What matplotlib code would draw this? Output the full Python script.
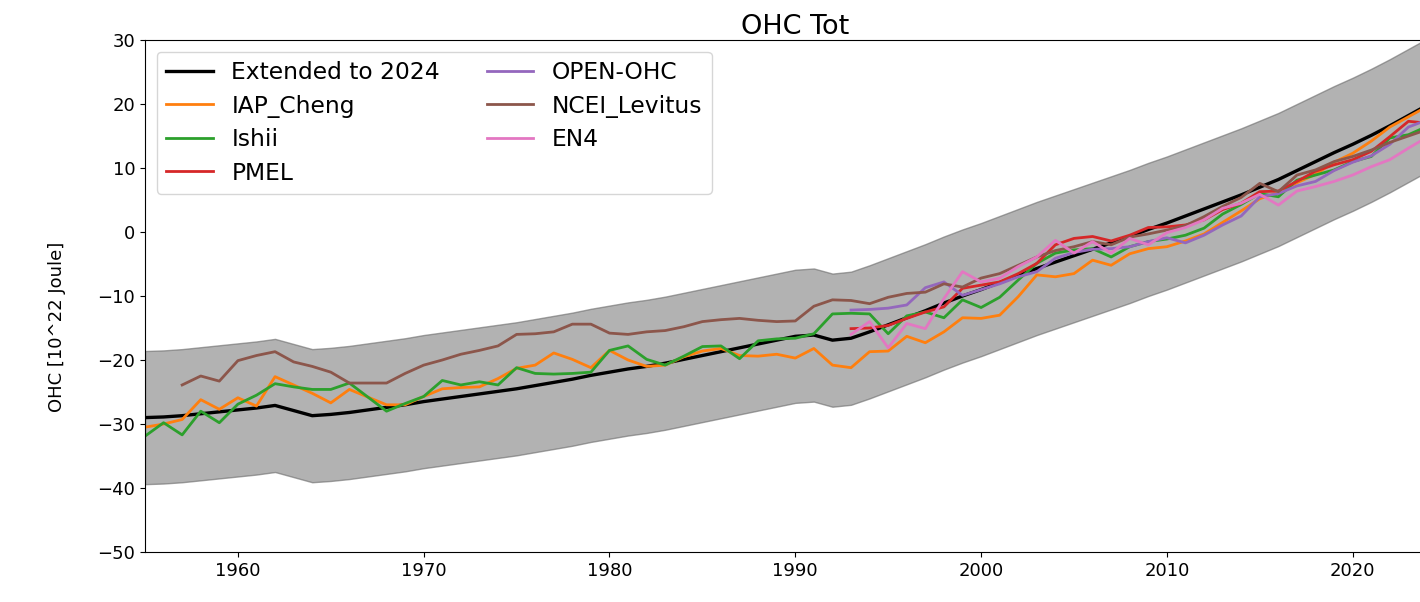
import numpy as np
import matplotlib
matplotlib.use("Agg")
import matplotlib.pyplot as plt

# annual ocean heat content, 10^22 J
years = np.arange(1955, 2025)
years_57 = np.arange(1957, 2025)
years_93 = np.arange(1993, 2025)

extended = [-29.0, -28.9, -28.7, -28.4, -28.1, -27.8, -27.5, -27.1, -27.9, -28.7,
            -28.5, -28.2, -27.8, -27.4, -27.0, -26.5, -26.1, -25.7, -25.3, -24.9,
            -24.5, -24.0, -23.5, -23.0, -22.4, -21.9, -21.4, -21.0, -20.5, -19.9,
            -19.3, -18.7, -18.1, -17.5, -16.9, -16.3, -16.1, -16.9, -16.6, -15.6,
            -14.5, -13.4, -12.3, -11.1, -10.0, -9.0, -7.9, -6.8, -5.7, -4.7,
            -3.7, -2.7, -1.7, -0.7, 0.4, 1.4, 2.5, 3.6, 4.7, 5.8,
            7.0, 8.2, 9.6, 11.0, 12.4, 13.7, 15.1, 16.6, 18.2, 19.8]
band_halfwidth = 10.4

iap_cheng = [-30.5, -30.0, -29.3, -26.2, -27.7, -25.9, -27.2, -22.6, -23.9, -25.2,
             -26.7, -24.6, -25.8, -27.0, -27.0, -25.7, -24.5, -24.3, -24.2, -22.9,
             -21.3, -20.8, -18.9, -19.9, -21.2, -18.5, -20.0, -21.0, -20.8, -19.5,
             -18.6, -18.2, -19.3, -19.4, -19.1, -19.7, -18.2, -20.8, -21.2, -18.7,
             -18.6, -16.3, -17.3, -15.6, -13.4, -13.5, -13.0, -10.1, -6.7, -7.0,
             -6.5, -4.4, -5.2, -3.4, -2.6, -2.3, -1.4, -0.3, 1.5, 3.3,
             5.2, 6.2, 7.7, 9.0, 10.9, 12.3, 14.2, 16.4, 18.0, 19.6]

ishii = [-31.9, -29.8, -31.7, -28.0, -29.8, -26.9, -25.5, -23.7, -24.2, -24.6,
         -24.6, -23.6, -25.8, -28.0, -26.8, -25.7, -23.2, -23.9, -23.4, -23.9,
         -21.2, -22.1, -22.2, -22.1, -21.9, -18.5, -17.8, -19.9, -20.8, -19.4,
         -17.9, -17.8, -19.8, -17.0, -16.7, -16.6, -15.9, -12.8, -12.7, -12.8,
         -15.9, -13.1, -12.5, -13.4, -10.6, -11.8, -10.2, -7.5, -4.9, -3.3,
         -2.8, -2.6, -3.9, -2.3, -1.5, -1.1, -0.5, 0.6, 2.8, 4.3,
         6.0, 5.5, 8.1, 8.9, 9.7, 11.0, 11.8, 14.7, 15.2, 16.5]

pmel = [-15.1, -15.0, -14.6, -13.5, -12.5, -11.7, -8.8, -8.3, -7.8, -6.5,
        -4.9, -2.0, -1.0, -0.7, -1.4, -0.5, 0.7, 0.8, 1.1, 1.9,
        3.5, 4.5, 6.3, 6.4, 7.9, 9.5, 10.5, 11.3, 12.6, 14.9,
        17.3, 17.0]

open_ohc = [-12.2, -12.1, -11.9, -11.4, -8.7, -7.8, -9.9, -9.0, -8.1, -7.0,
            -6.2, -4.1, -3.2, -2.7, -2.6, -2.3, -1.5, -0.9, -1.7, -0.5,
            1.1, 2.5, 5.5, 6.0, 7.2, 7.9, 9.6, 10.9, 11.9, 13.7,
            16.4, 17.5]

ncei_levitus = [-23.9, -22.5, -23.3, -20.1, -19.3, -18.7, -20.3, -21.0, -21.9, -23.6,
                -23.6, -23.6, -22.1, -20.8, -20.0, -19.1, -18.5, -17.8, -16.0, -15.9,
                -15.6, -14.4, -14.4, -15.8, -16.0, -15.6, -15.4, -14.8, -14.0, -13.7,
                -13.5, -13.8, -14.0, -13.9, -11.6, -10.6, -10.7, -11.2, -10.2, -9.6,
                -9.4, -8.1, -8.6, -7.2, -6.5, -5.2, -3.9, -2.9, -2.3, -1.5,
                -2.0, -0.8, -0.3, 0.3, 1.0, 2.4, 4.0, 5.4, 7.6, 6.3,
                8.9, 9.7, 11.0, 11.8, 12.8, 14.0, 15.0, 16.0]

en4 = [-16.0, -14.0, -18.1, -14.3, -15.1, -10.4, -6.2, -7.8, -7.2, -5.4,
       -3.9, -1.3, -3.3, -1.5, -3.3, -1.0, -2.0, -0.1, 0.7, 1.9,
       3.7, 4.5, 5.9, 4.2, 6.4, 7.1, 7.9, 8.9, 10.2, 11.3,
       13.1, 14.8]

fig = plt.figure(figsize=(14.2, 6.02), dpi=100)
ax = fig.add_axes([145 / 1420, 50 / 602, 1282 / 1420, 512 / 602])

ext = np.array(extended)
ax.fill_between(years, ext - band_halfwidth, ext + band_halfwidth,
                facecolor="grey", edgecolor="dimgrey", alpha=0.6, lw=1.0)
ax.plot(years, extended, color="black", lw=2.4, label="Extended to 2024")
ax.plot(years, iap_cheng, color="C1", lw=2.0, label="IAP_Cheng")
ax.plot(years, ishii, color="C2", lw=2.0, label="Ishii")
ax.plot(years_93, pmel, color="C3", lw=2.0, label="PMEL")
ax.plot(years_93, open_ohc, color="C4", lw=2.0, label="OPEN-OHC")
ax.plot(years_57, ncei_levitus, color="C5", lw=2.0, label="NCEI_Levitus")
ax.plot(years_93, en4, color="C6", lw=2.0, label="EN4")

ax.set_xlim(1955, 2024)
ax.set_ylim(-50, 30)
ax.tick_params(labelsize=13)
ax.set_ylabel("OHC [10^22 Joule]", fontsize=13)
ax.yaxis.set_label_coords(-0.062, 0.44)
ax.set_title("OHC Tot", fontsize=19.5, pad=4, x=0.507)
ax.legend(loc="upper left", ncol=2, fontsize=16.8, labelspacing=0.45)

fig.savefig("out.png", dpi=100)
